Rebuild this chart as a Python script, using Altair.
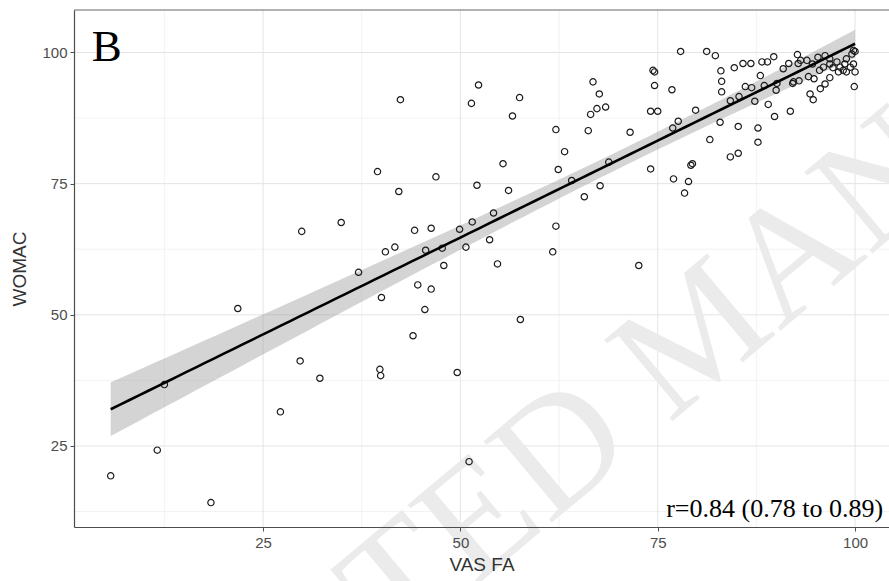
import altair as alt
import numpy as np
import pandas as pd

# ---- data ----
vas_fa = [
    5.7, 11.6, 12.5, 18.4, 21.8, 27.2, 29.7, 32.2, 39.8, 39.9, 49.6, 51.1, 44.0, 45.5, 40.0, 44.6, 46.3, 57.6, 37.1,
    29.9, 34.9, 39.5, 40.5, 41.7, 42.2, 42.4, 44.2, 45.6, 46.3, 46.9, 47.7, 47.9, 49.9, 50.7, 51.4, 51.5, 52.1, 52.3,
    53.7, 54.2, 54.7, 55.4, 56.1, 56.6, 57.5, 61.7, 62.1, 62.1, 62.4, 63.2, 64.1, 65.7, 66.2, 66.5, 66.8, 67.3, 67.6,
    67.7, 68.4, 68.8, 71.5, 72.6,
    74.1, 75.0, 74.1, 74.4, 74.6, 74.6, 76.8, 76.9, 77.0, 77.6, 77.9, 78.4, 78.9, 79.2, 79.4, 79.8, 81.2, 82.3, 81.6,
    82.9, 83.0, 83.1, 83.1, 84.2, 85.3, 84.2, 85.2, 84.7, 85.2, 85.8, 86.8, 86.1, 86.9, 87.3, 87.7, 87.7, 88.0, 88.2,
    88.9, 89.7, 88.5, 89.0, 89.8, 90.0, 90.9, 91.6, 91.8, 92.2, 92.9, 92.7, 92.8, 93.1, 93.9, 94.1, 94.8, 94.3, 94.7,
    94.6, 95.3, 96.2, 96.8, 95.5, 96.0, 95.6, 96.2, 96.8, 96.8, 97.7, 97.2, 97.9, 98.1, 98.5, 98.7, 98.9, 99.6, 100.0,
    99.8, 99.4, 100.0, 98.9, 99.9, 99.8, 90.1, 92.1,
]
womac = [
    19.3, 24.2, 36.7, 14.2, 51.2, 31.5, 41.2, 37.9, 39.6, 38.4, 39.0, 22.0, 46.0, 51.0, 53.3, 55.7, 54.9, 49.1, 58.1,
    65.9, 67.6, 77.3, 62.0, 62.9, 73.5, 91.0, 66.1, 62.3, 66.5, 76.3, 62.7, 59.4, 66.3, 62.9, 90.3, 67.7, 74.7, 93.8,
    64.3, 69.4, 59.7, 78.8, 73.7, 87.9, 91.4, 62.0, 66.9, 85.3, 77.7, 81.1, 75.6, 72.5, 85.1, 88.2, 94.4, 89.3, 92.1,
    74.6, 89.6, 79.1, 84.8, 59.4,
    88.8, 88.8, 77.8, 96.6, 96.3, 93.7, 92.9, 85.6, 75.9, 86.9, 100.2, 73.2, 75.4, 78.5, 78.8, 89.0, 100.2, 99.4, 83.4,
    86.7, 96.5, 94.5, 92.5, 90.8, 91.6, 80.1, 80.8, 97.1, 85.9, 97.9, 97.9, 93.5, 93.3, 90.7, 85.6, 82.9, 95.6, 98.2,
    98.2, 99.2, 93.7, 90.1, 87.8, 92.8, 96.9, 97.9, 88.8, 94.4, 94.6, 99.6, 97.9, 98.5, 98.5, 95.4, 95.0, 92.1, 91.0,
    97.8, 99.1, 99.4, 98.8, 96.6, 97.2, 93.1, 94.0, 95.2, 97.8, 98.2, 97.1, 96.3, 97.2, 96.6, 97.8, 98.8, 99.7, 100.2,
    97.8, 97.2, 96.3, 96.3, 93.5, 100.4, 94.1, 94.1,
]

x_ticks = [25, 50, 75, 100]
y_ticks = [25, 50, 75, 100]
minor_grid = [12.5, 37.5, 62.5, 87.5]
panel_label = "B"
corr_label = "r=0.84 (0.78 to 0.89)"
watermark = "ACCEPTED MANUSCRIPT"
t_crit = 1.974  # two-sided 95% t quantile for n-2 degrees of freedom

X_DOM = [1.05, 104.3]
Y_DOM = [9.55, 108.1]

pts = pd.DataFrame({"vas": vas_fa, "womac": womac})

# ---- linear fit with 95% confidence band (as geom_smooth(method="lm")) ----
x = np.array(vas_fa)
y = np.array(womac)
n = len(x)
slope, intercept = np.polyfit(x, y, 1)
resid = y - (intercept + slope * x)
s = np.sqrt(np.sum(resid ** 2) / (n - 2))
xbar = x.mean()
sxx = np.sum((x - xbar) ** 2)
grid = np.linspace(x.min(), x.max(), 80)
fit = intercept + slope * grid
se = s * np.sqrt(1.0 / n + (grid - xbar) ** 2 / sxx)
band = pd.DataFrame({"vas": grid, "fit": fit, "lo": fit - t_crit * se, "hi": fit + t_crit * se})

xs = alt.Scale(domain=X_DOM, nice=False, zero=False)
ys = alt.Scale(domain=Y_DOM, nice=False, zero=False)

LAB = "Liberation Sans"
SER = "Liberation Serif"

# grid lines (minor then major), drawn beneath everything
minor_x = alt.Chart(pd.DataFrame({"v": minor_grid})).mark_rule(color="#ececec", strokeWidth=0.7).encode(
    x=alt.X("v:Q", scale=xs)
)
minor_y = alt.Chart(pd.DataFrame({"v": minor_grid})).mark_rule(color="#ececec", strokeWidth=0.7).encode(
    y=alt.Y("v:Q", scale=ys)
)
major_x = alt.Chart(pd.DataFrame({"v": x_ticks})).mark_rule(color="#e4e4e4", strokeWidth=1).encode(
    x=alt.X("v:Q", scale=xs)
)
major_y = alt.Chart(pd.DataFrame({"v": y_ticks})).mark_rule(color="#e4e4e4", strokeWidth=1).encode(
    y=alt.Y("v:Q", scale=ys)
)

wm = alt.Chart(pd.DataFrame({"vas": [80.5], "womac": [46.5], "t": [watermark]})).mark_text(
    font=SER, fontSize=162, color="#ebebeb", angle=320, align="center", baseline="middle"
).encode(x=alt.X("vas:Q", scale=xs), y=alt.Y("womac:Q", scale=ys), text="t:N")

area = alt.Chart(band).mark_area(color="#999999", opacity=0.42).encode(
    x=alt.X("vas:Q", scale=xs), y=alt.Y("lo:Q", scale=ys), y2="hi:Q"
)

points = alt.Chart(pts).mark_point(
    shape="circle", filled=False, size=40, strokeWidth=1.2, color="#1a1a1a", opacity=1
).encode(
    x=alt.X(
        "vas:Q", scale=xs,
        axis=alt.Axis(
            values=x_ticks, title="VAS FA", grid=False, zindex=2,
            domainColor="#4d4d4d", domainWidth=1.2, tickColor="#4d4d4d", tickSize=4,
            labelFont=LAB, labelFontSize=15, labelColor="#4d4d4d", labelPadding=4,
            titleFont=LAB, titleFontSize=19, titleFontWeight="normal", titleColor="#333333",
            titlePadding=5,
        ),
    ),
    y=alt.Y(
        "womac:Q", scale=ys,
        axis=alt.Axis(
            values=y_ticks, title="WOMAC", grid=False, zindex=2,
            domainColor="#4d4d4d", domainWidth=1.2, tickColor="#4d4d4d", tickSize=4,
            labelFont=LAB, labelFontSize=15, labelColor="#4d4d4d", labelPadding=3,
            titleFont=LAB, titleFontSize=19, titleFontWeight="normal", titleColor="#333333",
            titlePadding=12,
        ),
    ),
)

line = alt.Chart(band).mark_line(color="black", strokeWidth=2.6).encode(
    x=alt.X("vas:Q", scale=xs), y=alt.Y("fit:Q", scale=ys)
)

label_b = alt.Chart(pd.DataFrame({"vas": [3.3], "womac": [98.4], "t": [panel_label]})).mark_text(
    font=SER, fontSize=45, color="black", align="left", baseline="alphabetic"
).encode(x=alt.X("vas:Q", scale=xs), y=alt.Y("womac:Q", scale=ys), text="t:N")

label_r = alt.Chart(pd.DataFrame({"vas": [103.55], "womac": [11.4], "t": [corr_label]})).mark_text(
    font=SER, fontSize=26, color="black", align="right", baseline="alphabetic"
).encode(x=alt.X("vas:Q", scale=xs), y=alt.Y("womac:Q", scale=ys), text="t:N")

top_border = alt.Chart(pd.DataFrame({"v": [Y_DOM[1]]})).mark_rule(color="#666666", strokeWidth=1.2).encode(
    y=alt.Y("v:Q", scale=ys)
)

chart = alt.layer(
    minor_x, minor_y, major_x, major_y, wm, area, points, line, label_b, label_r, top_border
).properties(
    width=815, height=517,
    padding={"left": 74, "top": 10, "right": 0, "bottom": 54},
    autosize=alt.AutoSizeParams(type="none"),
    background="white",
).configure_view(stroke=None)

chart.save("out.html", embed_options={"renderer": "svg", "actions": False})
